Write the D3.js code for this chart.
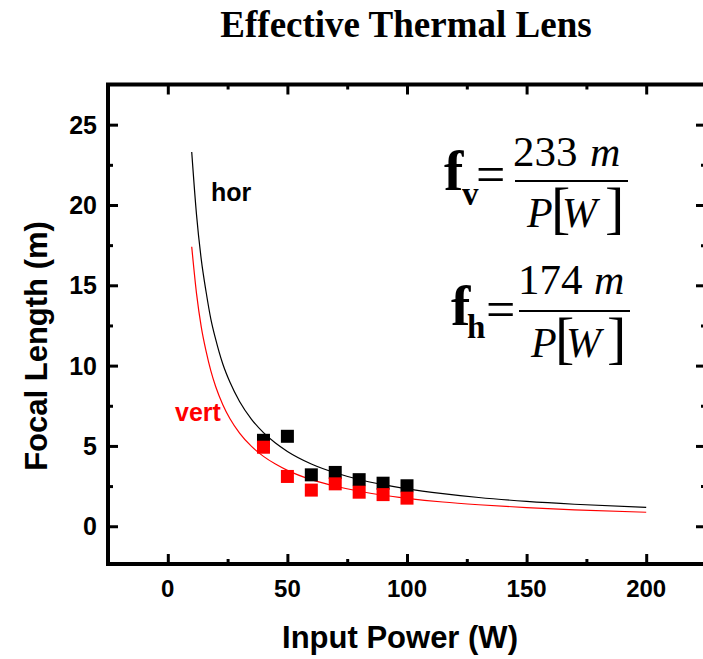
<!DOCTYPE html>
<html><head><meta charset="utf-8">
<script src="https://cdn.jsdelivr.net/npm/d3@7"></script>
<style>body{margin:0;background:#fff}svg{display:block}</style>
</head><body>
<svg id="c" width="703" height="659"></svg>
<script>
// ---- data ----
const powerHor = [40, 50, 60, 70, 80, 90, 100];
const focalHor = [5.35, 5.6, 3.2, 3.35, 2.9, 2.68, 2.52];
const powerVert = [40, 50, 60, 70, 80, 90, 100];
const focalVert = [4.92, 3.1, 2.25, 2.64, 2.12, 1.97, 1.75];
// fitted curves
const curveP = [10, 12, 14, 16, 18, 20, 23, 26, 30, 35, 40, 45, 50, 60, 70, 80, 90, 100, 115, 130, 150, 170, 200];
const curveHor = [23.3, 19.4, 16.6, 14.6, 12.9, 11.65, 10.1, 8.96, 7.77, 6.66, 5.83, 5.18, 4.66, 3.88, 3.33, 2.91, 2.59, 2.33, 2.03, 1.79, 1.55, 1.37, 1.17];
const curveVert = [17.4, 14.5, 12.4, 10.9, 9.67, 8.7, 7.57, 6.69, 5.8, 4.97, 4.35, 3.87, 3.48, 2.9, 2.49, 2.18, 1.93, 1.74, 1.51, 1.34, 1.16, 1.02, 0.87];
const xTicks = [0, 50, 100, 150, 200];
const xMinor = [25, 75, 125, 175];
const yTicks = [0, 5, 10, 15, 20, 25];
const yMinor = [2.5, 7.5, 12.5, 17.5, 22.5];

const svg = d3.select("#c");
const x = d3.scaleLinear().domain([-25, 225]).range([108, 706]);
const y = d3.scaleLinear().domain([-2.35, 27.5]).range([564, 84.5]);
const [x0, x1] = x.range(), [y0, y1] = y.range();

const sans = "'Liberation Sans', Arial, sans-serif";
const serif = "'Liberation Serif', 'Times New Roman', serif";

// title
svg.append("text").attr("x", 406).attr("y", 37).attr("text-anchor", "middle")
  .attr("font-family", serif).attr("font-weight", "bold").attr("font-size", 37)
  .text("Effective Thermal Lens");

// axes
const gB = svg.append("g").attr("transform", `translate(0,${y0})`)
  .call(d3.axisBottom(x).tickValues(xTicks).tickSize(-10).tickFormat(""));
const gBm = svg.append("g").attr("transform", `translate(0,${y0})`)
  .call(d3.axisBottom(x).tickValues(xMinor).tickSize(-5).tickFormat(""));
const gT = svg.append("g").attr("transform", `translate(0,${y1})`)
  .call(d3.axisTop(x).tickValues(xTicks).tickSize(-10).tickFormat(""));
const gTm = svg.append("g").attr("transform", `translate(0,${y1})`)
  .call(d3.axisTop(x).tickValues(xMinor).tickSize(-5).tickFormat(""));
const gL = svg.append("g").attr("transform", `translate(${x0},0)`)
  .call(d3.axisLeft(y).tickValues(yTicks).tickSize(-10).tickFormat(""));
const gLm = svg.append("g").attr("transform", `translate(${x0},0)`)
  .call(d3.axisLeft(y).tickValues(yMinor).tickSize(-5).tickFormat(""));
const gR = svg.append("g").attr("transform", `translate(${x1},0)`)
  .call(d3.axisRight(y).tickValues(yTicks).tickSize(-10).tickFormat(""));
const gRm = svg.append("g").attr("transform", `translate(${x1},0)`)
  .call(d3.axisRight(y).tickValues(yMinor).tickSize(-5).tickFormat(""));
[gB, gBm, gT, gTm, gL, gLm, gR, gRm].forEach(g => {
  g.select(".domain").remove();
  g.selectAll("line").attr("stroke", "#000").attr("stroke-width", 3);
});

// tick labels
svg.append("g").selectAll("text").data(xTicks).join("text")
  .attr("x", d => x(d)).attr("y", 597).attr("text-anchor", "middle")
  .attr("font-family", sans).attr("font-weight", "bold").attr("font-size", 24)
  .text(d => d);
svg.append("g").selectAll("text").data(yTicks).join("text")
  .attr("x", 97).attr("y", d => y(d)).attr("dy", "0.36em").attr("text-anchor", "end")
  .attr("font-family", sans).attr("font-weight", "bold").attr("font-size", 25)
  .text(d => d);

// axis titles
svg.append("text").attr("x", 400).attr("y", 648).attr("text-anchor", "middle")
  .attr("font-family", sans).attr("font-weight", "bold").attr("font-size", 31)
  .text("Input Power (W)");
svg.append("text").attr("transform", "translate(47,346) rotate(-90)").attr("text-anchor", "middle")
  .attr("font-family", sans).attr("font-weight", "bold").attr("font-size", 31)
  .text("Focal Length (m)");

// curves
const line = d3.line().x(d => x(d[0])).y(d => y(d[1])).curve(d3.curveMonotoneX);
svg.append("path").datum(d3.zip(curveP, curveHor)).attr("d", line)
  .attr("fill", "none").attr("stroke", "#000").attr("stroke-width", 1.2);
svg.append("path").datum(d3.zip(curveP, curveVert)).attr("d", line)
  .attr("fill", "none").attr("stroke", "#ff0000").attr("stroke-width", 1.2);

// markers
const s = 13;
svg.append("g").selectAll("rect").data(d3.zip(powerHor, focalHor)).join("rect")
  .attr("x", d => x(d[0]) - s / 2).attr("y", d => y(d[1]) - s / 2)
  .attr("width", s).attr("height", s).attr("fill", "#000");
svg.append("g").selectAll("rect").data(d3.zip(powerVert, focalVert)).join("rect")
  .attr("x", d => x(d[0]) - s / 2).attr("y", d => y(d[1]) - s / 2)
  .attr("width", s).attr("height", s).attr("fill", "#ff0000");

// frame
svg.append("rect").attr("x", x0).attr("y", y1).attr("width", x1 - x0).attr("height", y0 - y1)
  .attr("fill", "none").attr("stroke", "#000").attr("stroke-width", 4);

// labels
svg.append("text").attr("x", 211).attr("y", 201).attr("font-family", sans)
  .attr("font-weight", "bold").attr("font-size", 25).attr("fill", "#000").text("hor");
svg.append("text").attr("x", 175).attr("y", 421).attr("font-family", sans)
  .attr("font-weight", "bold").attr("font-size", 25).attr("fill", "#ff0000").text("vert");

// formulas
function formula(o) {
  const g = svg.append("g").attr("font-family", serif).attr("fill", "#000");
  g.append("text").attr("x", o.fx).attr("y", o.base).attr("font-weight", "bold").attr("font-size", 58).text("f");
  g.append("text").attr("x", o.subx).attr("y", o.subBase).attr("font-weight", "bold").attr("font-size", 33).text(o.sub);
  g.append("text").attr("x", o.eqx).attr("y", o.base + 2).attr("font-size", 52).text("=");
  g.append("line").attr("x1", o.barx0).attr("x2", o.barx1).attr("y1", o.bary).attr("y2", o.bary)
    .attr("stroke", "#000").attr("stroke-width", 2);
  g.append("text").attr("x", o.numx).attr("y", o.numBase).attr("font-size", 43).text(o.num);
  g.append("text").attr("x", o.mx).attr("y", o.numBase).attr("font-size", 42).attr("font-style", "italic").text("m");
  g.append("text").attr("x", o.px).attr("y", o.denBase).attr("font-size", 42).attr("font-style", "italic").text("P");
  g.append("text").attr("x", o.lbx).attr("y", o.denBase).attr("font-size", 58).text("[");
  g.append("text").attr("x", o.wx).attr("y", o.denBase).attr("font-size", 42).attr("font-style", "italic").text("W");
  g.append("text").attr("x", o.rbx).attr("y", o.denBase).attr("font-size", 58).text("]");
}
formula({fx: 444, base: 190, sub: "v", subx: 462, subBase: 205, eqx: 476, num: "233", barx0: 515, barx1: 628, bary: 181,
  numx: 513, numBase: 166, mx: 590, px: 527, denBase: 227, lbx: 551, wx: 562, rbx: 605});
formula({fx: 451, base: 325, sub: "h", subx: 467, subBase: 338, eqx: 486, num: "174", barx0: 519, barx1: 630, bary: 311,
  numx: 518, numBase: 294, mx: 594, px: 531, denBase: 357, lbx: 555, wx: 566, rbx: 607});
</script>
</body></html>
